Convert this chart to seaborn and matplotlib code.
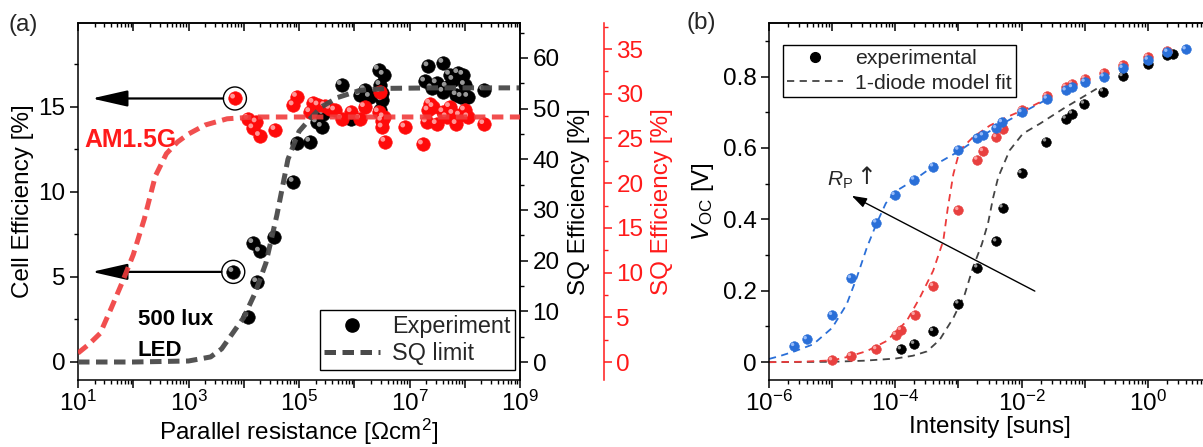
import numpy as np
import pandas as pd
import matplotlib
matplotlib.use("Agg")
import matplotlib.pyplot as plt
import matplotlib.transforms as mtransforms
from matplotlib.ticker import FixedLocator, FuncFormatter, LogLocator, MultipleLocator, NullFormatter
from matplotlib.lines import Line2D
import seaborn as sns

# ---------------- panel (a) data ----------------
a_black_logR = [3.81, 4.08, 4.17, 4.24, 4.29, 4.55, 4.90, 4.96, 5.20, 5.32, 5.41, 5.44, 5.77, 5.95,
                6.10, 6.19, 6.28, 6.44, 6.53, 6.47, 6.50, 6.50, 6.47, 7.28, 7.34, 7.40, 7.49, 7.61,
                7.61, 7.67, 7.73, 7.79, 7.85, 7.88, 7.94, 7.97, 8.00, 8.06, 8.35]
a_black_eff = [5.3, 2.65, 7.0, 4.7, 6.5, 7.35, 10.6, 12.86, 12.96, 14.1, 13.84, 14.6, 16.3, 14.3,
               15.7, 16.0, 15.6, 17.2, 16.9, 16.3, 15.8, 15.4, 14.8, 16.5, 17.4, 16.1, 16.4, 17.6,
               15.9, 16.2, 16.9, 16.6, 15.7, 17.0, 15.6, 16.9, 16.3, 15.6, 16.0]
a_red_logR = [3.84, 4.08, 4.17, 4.23, 4.29, 4.57, 4.90, 4.96, 5.20, 5.26, 5.35, 5.47, 5.56, 5.65,
              5.77, 5.95, 6.10, 6.19, 6.44, 6.47, 6.50, 6.53, 6.51, 6.56, 6.92, 7.24, 7.31, 7.34,
              7.37, 7.43, 7.49, 7.61, 7.67, 7.73, 7.79, 7.85, 7.91, 8.00, 8.06, 8.35]
a_red_eff = [15.5, 14.3, 13.75, 14.1, 13.3, 13.65, 15.1, 15.6, 14.7, 15.25, 15.1, 15.06, 14.9, 14.8,
             14.3, 14.7, 14.3, 15.0, 14.7, 15.9, 14.2, 14.4, 13.8, 12.96, 13.8, 12.8, 14.1, 14.8,
             15.2, 15.0, 14.0, 14.7, 14.4, 15.0, 14.6, 14.0, 14.5, 14.8, 14.4, 14.0]
a_marked_logR = [3.81, 3.84]
a_marked_eff = [5.3, 15.5]
a_arrow_tip_logR = 1.25

sq_led_logR = [1.0, 2.0, 3.0, 3.4, 3.6, 3.8, 4.0, 4.2, 4.4, 4.6, 4.8, 5.0, 5.2, 5.4, 5.7, 6.1, 6.6, 7.5, 9.0]
sq_led_val = [0.0, 0.0, 0.2, 1.0, 2.6, 5.7, 8.8, 13.5, 19.5, 29.0, 40.0, 45.5, 48.0, 50.3, 52.2, 53.6, 54.0, 54.1, 54.1]
sq_am_logR = [1.0, 1.2, 1.4, 1.6, 1.8, 2.0, 2.2, 2.4, 2.6, 2.8, 3.0, 3.3, 3.7, 4.2, 5.0, 6.0, 7.0, 8.0, 9.0]
sq_am_val = [1.0, 2.0, 3.2, 6.0, 8.9, 12.0, 16.0, 20.8, 23.3, 24.6, 25.5, 26.5, 27.2, 27.4, 27.4, 27.4, 27.4, 27.4, 27.4]

# ---------------- panel (b) data ----------------
b_blue_logI = [-5.60, -5.40, -5.00, -4.70, -4.30, -4.01, -3.70, -3.40, -3.00, -2.70, -2.61, -2.40, -2.31,
               -2.00, -1.60, -1.30, -1.20, -1.00, -0.70, -0.40, 0.00, 0.31, 0.60]
b_blue_V = [0.045, 0.064, 0.132, 0.235, 0.391, 0.468, 0.511, 0.548, 0.595, 0.627, 0.635, 0.655, 0.672,
            0.700, 0.738, 0.761, 0.770, 0.785, 0.800, 0.824, 0.847, 0.869, 0.876]
b_red_logI = [-5.00, -4.70, -4.30, -3.99, -3.91, -3.69, -3.40, -3.00, -2.70, -2.61, -2.40, -2.30, -2.00,
              -1.60, -1.30, -1.20, -1.00, -0.70, -0.40, 0.00, 0.31]
b_red_V = [0.005, 0.017, 0.036, 0.076, 0.090, 0.132, 0.213, 0.426, 0.567, 0.591, 0.630, 0.652, 0.706,
           0.745, 0.771, 0.780, 0.794, 0.810, 0.832, 0.855, 0.872]
b_black_logI = [-3.91, -3.70, -3.40, -3.00, -2.70, -2.40, -2.30, -2.00, -1.61, -1.30, -1.20, -1.01,
                -0.71, -0.40, 0.00, 0.31, 0.40]
b_black_V = [0.036, 0.051, 0.087, 0.164, 0.265, 0.338, 0.433, 0.529, 0.618, 0.682, 0.696, 0.724,
             0.758, 0.801, 0.834, 0.860, 0.864]

fit_blue_logI = [-6.0, -5.83, -5.6, -5.3, -5.0, -4.77, -4.61, -4.45, -4.30, -4.15, -4.0, -3.72, -3.35,
                 -3.0, -2.7, -2.4, -2.0, -1.6]
fit_blue_V = [0.009, 0.017, 0.03, 0.05, 0.096, 0.162, 0.237, 0.321, 0.387, 0.445, 0.478, 0.508, 0.555,
              0.590, 0.626, 0.658, 0.698, 0.736]
fit_red_logI = [-6.0, -5.5, -5.0, -4.77, -4.45, -4.14, -3.82, -3.61, -3.40, -3.24, -3.17, -3.08, -2.98,
                -2.77, -2.50, -2.24, -1.87, -1.55]
fit_red_V = [0.0, 0.001, 0.005, 0.014, 0.031, 0.059, 0.115, 0.181, 0.256, 0.340, 0.43, 0.527, 0.593,
             0.630, 0.663, 0.686, 0.714, 0.742]
fit_black_logI = [-6.0, -5.0, -4.5, -4.0, -3.72, -3.5, -3.3, -3.08, -2.90, -2.77, -2.63, -2.53, -2.45,
                  -2.37, -2.19, -1.98, -1.71, -1.34, -0.81]
fit_black_V = [0.0, 0.001, 0.004, 0.010, 0.018, 0.030, 0.062, 0.124, 0.190, 0.265, 0.330, 0.390, 0.461,
               0.518, 0.593, 0.640, 0.668, 0.710, 0.766]

rp_arrow_logI = [-1.79, -4.69]
rp_arrow_V = [0.199, 0.466]

# ---------------- style ----------------
sns.set_theme(style="ticks")
FS = 17.5
plt.rcParams.update({
    "font.family": ["Liberation Sans", "DejaVu Sans"],
    "mathtext.fontset": "custom",
    "mathtext.rm": "Liberation Sans",
    "mathtext.it": "Liberation Sans:italic",
    "mathtext.bf": "Liberation Sans:bold",
    "font.size": FS,
    "axes.labelsize": FS,
    "xtick.labelsize": FS,
    "ytick.labelsize": FS,
    "axes.edgecolor": "black",
    "axes.linewidth": 1.1,
    "xtick.color": "black",
    "ytick.color": "black",
    "axes.labelcolor": "black",
})

fig = plt.figure(figsize=(12.03, 4.47), dpi=100)
W, H = 1203, 447
ax = fig.add_axes([78 / W, (447 - 380) / H, 442 / W, 357 / H])
bx = fig.add_axes([769 / W, (447 - 380) / H, 442 / W, 357 / H])


def ball_scatter(axis, x, y, color, hl, size, hl_size, off):
    sns.scatterplot(x=x, y=y, ax=axis, color=color, s=size, edgecolor=color, linewidth=0.4,
                    zorder=3, legend=False)
    tr = mtransforms.offset_copy(axis.transData, fig=fig, x=-off, y=off, units="points")
    sns.scatterplot(x=x, y=y, ax=axis, color=hl, s=hl_size, edgecolor="none", linewidth=0,
                    zorder=3, alpha=0.85, transform=tr, legend=False)


def odd_fmt(v, p):
    e = int(round(np.log10(v)))
    return r"$10^{%d}$" % e if e % 2 == 1 else ""


def even_fmt(v, p):
    e = int(round(np.log10(v)))
    return r"$10^{%d}$" % e if e % 2 == 0 else ""


# ---------------- panel (a) ----------------
ax.set_xscale("log")
ax.set_xlim(10 ** 1, 10 ** 9)
ax.set_ylim(-1.06, 19.94)

ball_scatter(ax, 10 ** np.array(a_black_logR), a_black_eff, "black", "#b5b5b5", 95, 12, 1.7)
ball_scatter(ax, 10 ** np.array(a_red_logR), a_red_eff, "#ff0a0a", "#ffb0b0", 95, 12, 1.7)
sns.scatterplot(x=10 ** np.array(a_marked_logR), y=a_marked_eff, ax=ax, s=275, facecolor="none",
                edgecolor="black", linewidth=1.0, zorder=4, legend=False)
for lr, ef in zip(a_marked_logR, a_marked_eff):
    ax.annotate("", xy=(10 ** a_arrow_tip_logR, ef), xytext=(10 ** lr, ef),
                arrowprops=dict(arrowstyle="-|>,head_length=2.2,head_width=0.5", color="black",
                                lw=1.6, shrinkA=8.5, shrinkB=0, mutation_scale=10), zorder=4)

ax.text(10 ** 1.11, 13.06, "AM1.5G", color="#ff1a1a", fontsize=17.8, fontweight="bold",
        ha="left", va="center")
ax.text(10 ** 2.09, 2.47, "500 lux", color="black", fontsize=16, fontweight="bold",
        ha="left", va="center")
ax.text(10 ** 2.07, 0.7, "LED", color="black", fontsize=16, fontweight="bold",
        ha="left", va="center")

ax.set_xlabel("Parallel resistance [Ωcm$^{2}$]", labelpad=0)
ax.set_ylabel("Cell Efficiency [%]", labelpad=3)
ax.xaxis.set_major_locator(FixedLocator([10.0 ** k for k in range(1, 10)]))
ax.xaxis.set_major_formatter(FuncFormatter(odd_fmt))
ax.xaxis.set_minor_locator(LogLocator(base=10, subs=np.arange(2, 10), numticks=100))
ax.xaxis.set_minor_formatter(NullFormatter())
ax.yaxis.set_major_locator(MultipleLocator(5))
ax.yaxis.set_minor_locator(MultipleLocator(2.5))
ax.tick_params(axis="both", which="major", direction="out", length=6, width=1.1, pad=3)
ax.tick_params(axis="both", which="minor", direction="out", length=3.2, width=1.0)
ax.tick_params(axis="x", which="major", pad=2)

sec = ax.secondary_xaxis("top")
sec.xaxis.set_major_locator(FixedLocator([10.0 ** k for k in range(1, 10)]))
sec.xaxis.set_minor_locator(LogLocator(base=10, subs=np.arange(2, 10), numticks=100))
sec.xaxis.set_major_formatter(NullFormatter())
sec.xaxis.set_minor_formatter(NullFormatter())
sec.tick_params(which="major", direction="in", length=6, width=1.1)
sec.tick_params(which="minor", direction="in", length=3.2, width=1.0)

# black SQ axis (LED)
ax2 = ax.twinx()
ax2.set_ylim(-3.55, 66.9)
for s in ["left", "top", "bottom"]:
    ax2.spines[s].set_visible(False)
sns.lineplot(x=10 ** np.array(sq_led_logR), y=sq_led_val, ax=ax2, color="#4a4a4a", linewidth=3.6,
             linestyle=(0, (2.3, 1.3)), estimator=None, sort=False, alpha=0.95)
ax2.yaxis.set_major_locator(MultipleLocator(10))
ax2.yaxis.set_minor_locator(MultipleLocator(5))
ax2.tick_params(axis="y", which="major", direction="out", length=6, width=1.1, pad=3)
ax2.tick_params(axis="y", which="minor", direction="out", length=3.2, width=1.0)
ax2.set_ylabel("SQ Efficiency [%]", labelpad=6)
ax2.set_xlim(10 ** 1, 10 ** 9)

# red SQ axis (AM1.5G)
RED = "#ff1a1a"
ax3 = ax.twinx()
ax3.set_ylim(-2.01, 37.91)
ax3.spines["right"].set_position(("axes", 1.19))
for s in ["left", "top", "bottom"]:
    ax3.spines[s].set_visible(False)
ax3.spines["right"].set_color(RED)
sns.lineplot(x=10 ** np.array(sq_am_logR), y=sq_am_val, ax=ax3, color="#f03c3c", linewidth=3.6,
             linestyle=(0, (2.3, 1.3)), estimator=None, sort=False, alpha=0.9)
ax3.yaxis.set_major_locator(MultipleLocator(5))
ax3.yaxis.set_minor_locator(MultipleLocator(2.5))
ax3.tick_params(axis="y", which="major", direction="out", length=6, width=1.1, pad=3,
                colors=RED)
ax3.tick_params(axis="y", which="minor", direction="out", length=3.2, width=1.0, colors=RED)
ax3.set_ylabel("SQ Efficiency [%]", color=RED, labelpad=5)
ax3.set_xlim(10 ** 1, 10 ** 9)

leg_a = [Line2D([], [], marker="o", color="black", ls="none", markersize=9.5),
         Line2D([], [], color="#4a4a4a", lw=3.6, ls=(0, (2.3, 1.3)))]
lg = ax3.legend(leg_a, ["Experiment", "SQ limit"], loc="lower right",
                bbox_to_anchor=(0.989, 0.028), fontsize=16.8, frameon=True, fancybox=False,
                edgecolor="black", framealpha=1, borderpad=0.2, labelspacing=0.2,
                handlelength=2.4, handletextpad=0.5, borderaxespad=0)
lg.get_frame().set_linewidth(1.0)

fig.text(8 / W, 1 - 25 / H, "(a)", fontsize=FS, ha="left", va="center")

# ---------------- panel (b) ----------------
bx.set_xscale("log")
bx.set_xlim(1e-6, 1e1)
bx.set_ylim(-0.05, 0.95)

DASH_B = (0, (4.0, 3.0))
sns.lineplot(x=10 ** np.array(fit_black_logI), y=fit_black_V, ax=bx, color="#444444", linewidth=1.3,
             linestyle=DASH_B, estimator=None, sort=False, zorder=2)
sns.lineplot(x=10 ** np.array(fit_blue_logI), y=fit_blue_V, ax=bx, color="#2a6fd8", linewidth=1.3,
             linestyle=DASH_B, estimator=None, sort=False, zorder=2)
sns.lineplot(x=10 ** np.array(fit_red_logI), y=fit_red_V, ax=bx, color="#ec3b3b", linewidth=1.3,
             linestyle=DASH_B, estimator=None, sort=False, zorder=2)

ball_scatter(bx, 10 ** np.array(b_black_logI), b_black_V, "black", "#b0b0b0", 48, 6, 1.2)
ball_scatter(bx, 10 ** np.array(b_red_logI), b_red_V, "#e8403f", "#ffb3b3", 48, 6, 1.2)
ball_scatter(bx, 10 ** np.array(b_blue_logI), b_blue_V, "#2a6fd8", "#a9c8ff", 48, 6, 1.2)

bx.annotate("", xy=(10 ** rp_arrow_logI[1], rp_arrow_V[1]),
            xytext=(10 ** rp_arrow_logI[0], rp_arrow_V[0]),
            arrowprops=dict(arrowstyle="-|>,head_length=0.9,head_width=0.3", color="black",
                            lw=1.0, shrinkA=0, shrinkB=0, mutation_scale=10), zorder=5)
bx.text(10 ** -5.08, 0.508, r"$R_{\mathrm{P}}$", fontsize=15, ha="left", va="center")
bx.text(10 ** -4.62, 0.52, "↑", fontsize=17, ha="left", va="center",
        family=["DejaVu Sans"])

bx.set_xlabel("Intensity [suns]", labelpad=0)
bx.set_ylabel(r"$V_{\mathrm{OC}}$ [V]", labelpad=5)
bx.xaxis.set_major_locator(FixedLocator([10.0 ** k for k in range(-6, 2)]))
bx.xaxis.set_major_formatter(FuncFormatter(even_fmt))
bx.xaxis.set_minor_locator(LogLocator(base=10, subs=np.arange(2, 10), numticks=100))
bx.xaxis.set_minor_formatter(NullFormatter())
bx.yaxis.set_major_locator(MultipleLocator(0.2))
bx.yaxis.set_minor_locator(MultipleLocator(0.1))
bx.yaxis.set_major_formatter(FuncFormatter(lambda v, p: "0" if abs(v) < 1e-9 else f"{v:.1f}"))
bx.tick_params(axis="both", which="major", direction="out", length=6, width=1.1, pad=3)
bx.tick_params(axis="both", which="minor", direction="out", length=3.2, width=1.0)
bx.tick_params(axis="x", which="major", pad=2)

secb = bx.secondary_xaxis("top")
secb.xaxis.set_major_locator(FixedLocator([10.0 ** k for k in range(-6, 2)]))
secb.xaxis.set_minor_locator(LogLocator(base=10, subs=np.arange(2, 10), numticks=100))
secb.xaxis.set_major_formatter(NullFormatter())
secb.xaxis.set_minor_formatter(NullFormatter())
secb.tick_params(which="major", direction="in", length=6, width=1.1)
secb.tick_params(which="minor", direction="in", length=3.2, width=1.0)

leg_b = [Line2D([], [], marker="o", color="black", ls="none", markersize=7),
         Line2D([], [], color="#444444", lw=1.3, ls=DASH_B)]
lgb = bx.legend(leg_b, ["experimental", "1-diode model fit"], loc="upper left",
                bbox_to_anchor=(0.032, 0.938), fontsize=15.3, frameon=True, fancybox=False,
                edgecolor="black", framealpha=1, borderpad=0.2, labelspacing=0.25,
                handlelength=2.6, handletextpad=0.6, borderaxespad=0)
lgb.get_frame().set_linewidth(1.0)

fig.text(686 / W, 1 - 23 / H, "(b)", fontsize=FS, ha="left", va="center")

fig.savefig("out.png", dpi=100)
